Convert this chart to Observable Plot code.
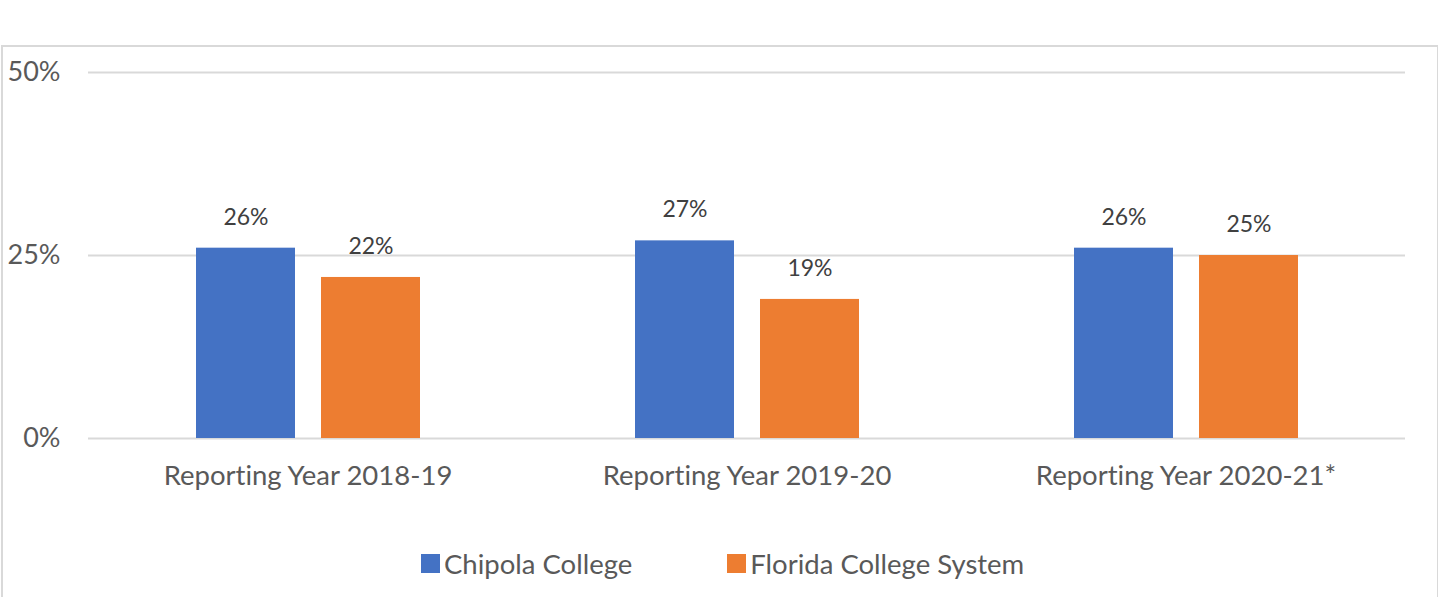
<!DOCTYPE html>
<html>
<head>
<meta charset="utf-8">
<script src="https://cdn.jsdelivr.net/npm/d3@7"></script>
<script src="https://cdn.jsdelivr.net/npm/@observablehq/plot@0.6"></script>
<style>
  html, body { margin: 0; padding: 0; background: #fff; }
  body { width: 1438px; height: 597px; overflow: hidden; position: relative; font-family: Lato, "Open Sans", sans-serif; font-variant-ligatures: none; }
  svg text { font-variant-ligatures: none; }
  #frame { position: absolute; left: 1px; top: 45px; width: 1434px; height: 600px; border: 2px solid #d9d9d9; pointer-events: none; }
  #legend { position: absolute; left: 0; top: 548px; height: 30px; display: flex; align-items: center; padding-left: 421px; font-size: 27.5px; color: #595959; }
  .item { display: flex; align-items: center; }
  .sw { width: 19px; height: 19px; margin-right: 4px; }
</style>
</head>
<body>
<div id="chart"></div>
<div id="legend"></div>
<div id="frame"></div>
<script>
const years = ["Reporting Year 2018-19", "Reporting Year 2019-20", "Reporting Year 2020-21*"];
const seriesNames = ["Chipola College", "Florida College System"];
const chipola = [26, 27, 26];
const florida = [22, 19, 25];
const yTicks = [0, 25, 50];
const colors = ["#4472C4", "#ED7D31"];

const data = [];
years.forEach((yr, i) => {
  data.push({year: yr, series: seriesNames[0], value: chipola[i]});
  data.push({year: yr, series: seriesNames[1], value: florida[i]});
});

const chart = Plot.plot({
  width: 1438,
  height: 520,
  marginLeft: 88,
  marginRight: 33,
  marginTop: 72,
  marginBottom: 82,
  style: {background: "transparent", fontFamily: "Lato, 'Open Sans', sans-serif", color: "#595959"},
  fx: {domain: years, padding: 0, label: null},
  x: {domain: seriesNames, paddingInner: 0.208, paddingOuter: 0.86, axis: null},
  y: {domain: [0, 50], label: null},
  color: {domain: seriesNames, range: colors},
  marks: [
    Plot.ruleY(yTicks, {stroke: "#d9d9d9", strokeWidth: 2}),
    Plot.axisY(yTicks, {tickSize: 0, tickPadding: 28, tickFormat: d => d + "%", fontSize: 27, fill: "#595959", label: null}),
    Plot.axisFx({anchor: "bottom", tickSize: 0, tickPadding: 27, fontSize: 27.5, fill: "#595959", label: null}),
    Plot.barY(data, {fx: "year", x: "series", y: "value", fill: "series"}),
    Plot.text(data, {fx: "year", x: "series", y: "value", text: d => d.value + "%", dy: -31, fontSize: 23, fill: "#404040"})
  ]
});
document.getElementById("chart").appendChild(chart);

const legend = document.getElementById("legend");
seriesNames.forEach((s, i) => {
  const it = document.createElement("div");
  it.className = "item";
  if (i > 0) it.style.marginLeft = "95px";
  const sw = document.createElement("div");
  sw.className = "sw";
  sw.style.background = colors[i];
  const t = document.createElement("span");
  t.textContent = s;
  it.appendChild(sw);
  it.appendChild(t);
  legend.appendChild(it);
});
</script>
</body>
</html>
